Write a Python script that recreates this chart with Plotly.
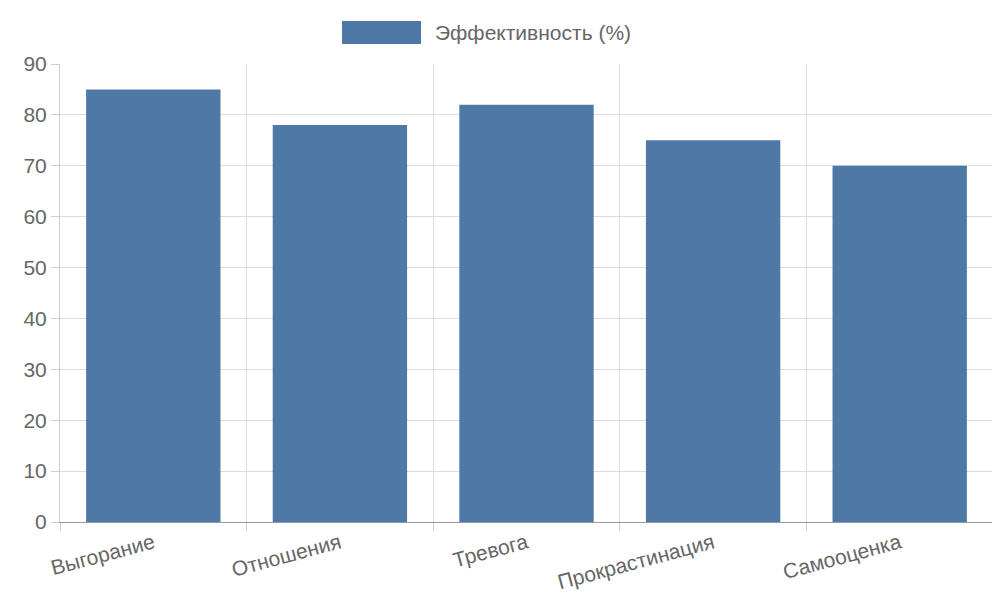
import plotly.graph_objects as go

categories = ["Выгорание", "Отношения", "Тревога", "Прокрастинация", "Самооценка"]
values = [85, 78, 82, 75, 70]
series_name = "Эффективность (%)"
color = "#4e79a7"

x = list(range(len(categories)))
fig = go.Figure()
fig.add_trace(go.Bar(x=x, y=values, name=series_name, marker_color=color, width=0.72,
                     marker_line_width=0, showlegend=False))
fig.add_trace(go.Scatter(x=[-0.5, 4.5], y=[0, 0], xaxis="x2", mode="markers",
                         marker_opacity=0, showlegend=False, hoverinfo="skip"))
font = dict(family="Liberation Sans, Arial, sans-serif", size=21, color="#666")
fig.update_layout(
    width=1000, height=600, margin=dict(l=52, r=15, t=56, b=86),
    plot_bgcolor="white", paper_bgcolor="white", font=font,
    xaxis=dict(range=[-0.5, 4.5], tickvals=x, ticktext=categories, tickangle=-15,
               showgrid=False, showline=True, linecolor="#999", ticks="", tickfont=font),
    xaxis2=dict(range=[-0.5, 4.5], overlaying="x", tickvals=[-0.5, 0.5, 1.5, 2.5, 3.5, 4.5],
                showticklabels=False, showgrid=True, gridcolor="#ddd", ticks="outside",
                ticklen=8, tickcolor="#ccc", side="bottom", layer="below traces"),
    yaxis=dict(range=[0, 90], dtick=10, showgrid=True, gridcolor="#ddd", showline=True,
               linecolor="#ccc", ticks="outside", ticklen=8, tickcolor="#ccc",
               tickfont=font, zeroline=False),
    shapes=[dict(type="rect", xref="paper", yref="paper", x0=(342-60)/933, x1=(421-60)/933,
                 y0=1+20/458, y1=1+43/458, fillcolor=color, line_width=0)],
    annotations=[dict(text=series_name, xref="paper", yref="paper", x=(433-60)/933,
                      y=1+32/458, xanchor="left", yanchor="middle", showarrow=False, font=font)],
)
fig.write_html("out.html")
